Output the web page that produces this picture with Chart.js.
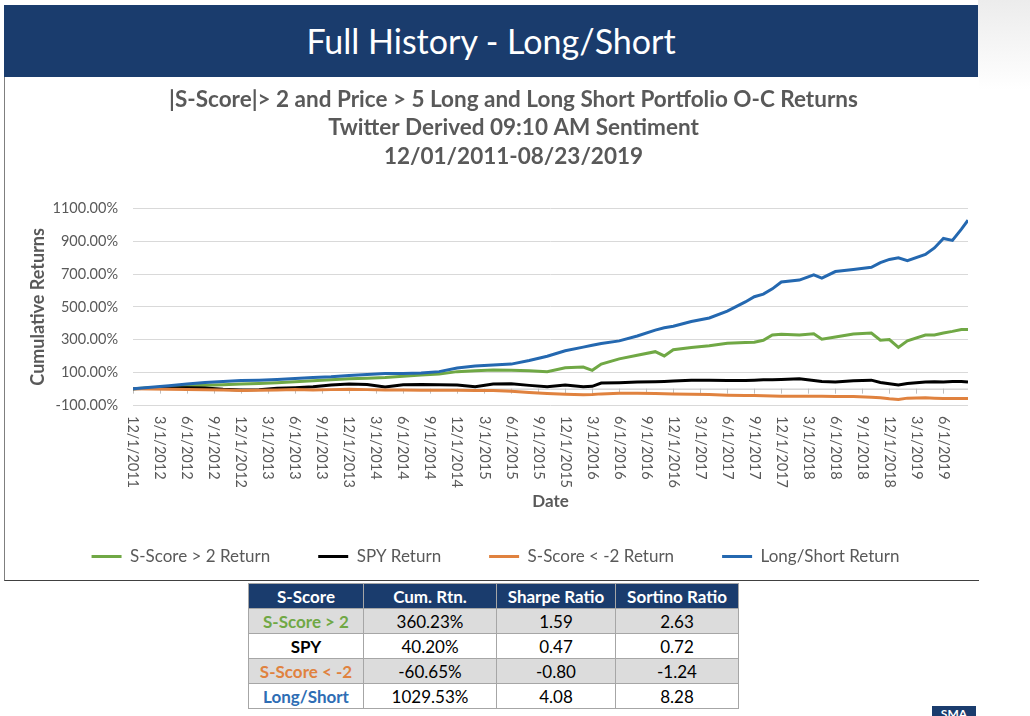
<!DOCTYPE html>
<html>
<head>
<meta charset="utf-8">
<script src="https://cdn.jsdelivr.net/npm/chart.js@4.4.1/dist/chart.umd.min.js"></script>
<style>
  body { margin: 0; width: 1030px; height: 716px; overflow: hidden; background: #fff; font-family: Lato, "Open Sans", sans-serif; position: relative; }
  .shade { position: absolute; left: 978px; top: 0; width: 52px; height: 90px; background: linear-gradient(to bottom, #ececec, #fff); }
  .banner { position: absolute; left: 4px; top: 5px; width: 974px; height: 72px; background: #1a3c6d; color: #fff; font-size: 34px; line-height: 72px; text-align: center; }
  .panel { position: absolute; left: 4px; top: 77px; width: 974px; height: 503px; border-left: 1px solid #7f7f7f; border-bottom: 1px solid #404040; background: #fff; }
  .panel canvas { position: absolute; left: 0; top: 0; }
  table { position: absolute; left: 248px; top: 583px; border-collapse: collapse; table-layout: fixed; font-size: 17px; }
  th, td { border: 1px solid #a6a6a6; height: 24px; padding: 0; text-align: center; }
  th { background: #1a3c6d; color: #fff; font-weight: bold; }
  tr.alt td { background: #dcdcdc; }
  td.name { font-weight: bold; }
  .logo { position: absolute; left: 932px; top: 706px; width: 44px; height: 16px; background: #1a3c6d; color: #fff; font-size: 12px; font-weight: bold; text-align: center; line-height: 16px; }
</style>
</head>
<body>
<div class="shade"></div>
<div class="banner">Full History - Long/Short</div>
<div class="panel"><div style="position:relative;width:974px;height:503px"><canvas id="chart"></canvas></div></div>
<table id="stats"></table>
<div class="logo">SMA</div>
<script>
// months since 12/1/2011
const months = [0, 2, 4, 6, 8, 10, 12, 14, 16, 18, 20, 22, 24, 26, 28, 30, 32, 34, 36, 38, 40, 42, 44, 46, 48, 50, 51, 52, 54, 56, 58, 59, 60, 62, 64, 66, 68, 69, 70, 71, 72, 74, 75.6, 76.5, 78, 80, 82, 83, 84, 85, 86, 88, 89, 90, 91, 92, 92.73];

const longReturn = [0, 6, 12, 16, 20, 24, 28, 32, 36, 42, 48, 54, 60, 64, 68, 76, 84, 90, 104, 110, 114, 112, 110, 104, 128, 132, 112, 150, 182, 204, 226, 200, 238, 252, 262, 278, 282, 284, 296, 328, 332, 328, 336, 302, 316, 334, 340, 296, 300, 252, 292, 328, 328, 340, 350, 362, 362];
const spyReturn = [0, 2, 4, 6, 4, -4, -8, -6, 2, 6, 12, 22, 28, 26, 10, 24, 26, 24, 22, 12, 28, 30, 20, 12, 22, 12, 14, 34, 36, 40, 42, 44, 46, 52, 52, 50, 50, 52, 54, 54, 56, 60, 50, 44, 40, 48, 52, 38, 30, 22, 32, 40, 42, 40, 44, 44, 40];
const shortReturn = [0, -2, -4, -5, -7, -9, -12, -10, -8, -6, -8, -6, -4, -6, -8, -8, -10, -10, -10, -12, -12, -16, -24, -30, -34, -38, -36, -32, -28, -28, -30, -31, -32, -34, -36, -40, -42, -42, -44, -45, -46, -47, -46, -47, -48, -48, -52, -55, -62, -66, -58, -56, -58, -60, -60, -60, -61];
const longShortReturn = [0, 8, 18, 28, 38, 44, 50, 52, 56, 62, 68, 72, 80, 86, 92, 92, 96, 104, 126, 138, 144, 150, 172, 198, 232, 254, 265, 276, 292, 322, 358, 372, 382, 410, 432, 474, 530, 562, 578, 610, 652, 664, 696, 676, 716, 728, 742, 770, 790, 800, 782, 820, 860, 918, 906, 975, 1030];

const seriesNames = ['S-Score > 2 Return', 'SPY Return', 'S-Score < -2 Return', 'Long/Short Return'];
const seriesColors = ['#70a845', '#000000', '#e0823f', '#2468b0'];

const xTickMonths = [0, 3, 6, 9, 12, 15, 18, 21, 24, 27, 30, 33, 36, 39, 42, 45, 48, 51, 54, 57, 60, 63, 66, 69, 72, 75, 78, 81, 84, 87, 90];
const xTickLabels = ['12/1/2011', '3/1/2012', '6/1/2012', '9/1/2012', '12/1/2012', '3/1/2013', '6/1/2013', '9/1/2013', '12/1/2013', '3/1/2014', '6/1/2014', '9/1/2014', '12/1/2014', '3/1/2015', '6/1/2015', '9/1/2015', '12/1/2015', '3/1/2016', '6/1/2016', '9/1/2016', '12/1/2016', '3/1/2017', '6/1/2017', '9/1/2017', '12/1/2017', '3/1/2018', '6/1/2018', '9/1/2018', '12/1/2018', '3/1/2019', '6/1/2019'];

// stats table
const tableHeader = ['S-Score', 'Cum. Rtn.', 'Sharpe Ratio', 'Sortino Ratio'];
const tableNames = ['S-Score > 2', 'SPY', 'S-Score < -2', 'Long/Short'];
const tableNameColors = ['#70a845', '#000000', '#e0823f', '#2e6db4'];
const cumRtn = ['360.23%', '40.20%', '-60.65%', '1029.53%'];
const sharpe = ['1.59', '0.47', '-0.80', '4.08'];
const sortino = ['2.63', '0.72', '-1.24', '8.28'];
const colWidths = [114, 132, 118, 122];

const tbl = document.getElementById('stats');
let html = '<tr>' + tableHeader.map((h, i) => `<th style="width:${colWidths[i]}px">${h}</th>`).join('') + '</tr>';
tableNames.forEach((n, i) => {
  html += `<tr class="${i % 2 === 0 ? 'alt' : ''}"><td class="name" style="color:${tableNameColors[i]}">${n.replace('<', '&lt;').replace('>', '&gt;')}</td><td>${cumRtn[i]}</td><td>${sharpe[i]}</td><td>${sortino[i]}</td></tr>`;
});
tbl.innerHTML = html;

const grey = '#595959';
const allSeries = [longReturn, spyReturn, shortReturn, longShortReturn];

// clockwise date labels + zero axis with tick marks, like the Excel chart
const excelAxis = {
  id: 'excelAxis',
  afterLayout(chart) {
    // Excel put the title and legend a bit right of centre
    chart.titleBlock.left += 54;
    chart.legend.left += 18;
  },
  beforeDatasetsDraw(chart) {
    const { ctx, chartArea } = chart;
    const xs = chart.scales.x, ys = chart.scales.y;
    const y0 = ys.getPixelForValue(0);
    ctx.save();
    ctx.strokeStyle = '#bfbfbf';
    ctx.lineWidth = 1;
    ctx.beginPath();
    ctx.moveTo(chartArea.left, y0 + 0.5);
    ctx.lineTo(chartArea.right, y0 + 0.5);
    xTickMonths.forEach(m => {
      const x = Math.round(xs.getPixelForValue(m)) + 0.5;
      ctx.moveTo(x, y0);
      ctx.lineTo(x, y0 + 5);
    });
    ctx.stroke();
    ctx.restore();
  },
  afterDraw(chart) {
    const { ctx, chartArea } = chart;
    const xs = chart.scales.x;
    ctx.save();
    ctx.fillStyle = grey;
    ctx.font = '14.5px Lato';
    ctx.textAlign = 'left';
    ctx.textBaseline = 'middle';
    xTickMonths.forEach((m, i) => {
      ctx.save();
      ctx.translate(xs.getPixelForValue(m), chartArea.bottom + 11);
      ctx.rotate(Math.PI / 2);
      ctx.fillText(xTickLabels[i], 0, 0);
      ctx.restore();
    });
    ctx.restore();
  }
};

new Chart(document.getElementById('chart'), {
  type: 'line',
  data: {
    datasets: allSeries.map((vals, i) => ({
      label: seriesNames[i],
      data: months.map((m, j) => ({ x: m, y: vals[j] })),
      borderColor: seriesColors[i],
      backgroundColor: seriesColors[i],
      borderWidth: 3,
      pointRadius: 0,
      pointStyle: 'line',
      tension: 0,
      order: 4 - i
    }))
  },
  options: {
    responsive: true,
    maintainAspectRatio: false,
    animation: false,
    layout: { padding: { top: 8, right: 11, left: 0, bottom: 5 } },
    plugins: {
      title: {
        display: true,
        text: ['|S-Score|> 2 and Price > 5 Long and Long Short Portfolio O-C Returns', 'Twitter Derived 09:10 AM Sentiment', '12/01/2011-08/23/2019'],
        color: grey,
        font: { family: 'Lato', size: 22.5, weight: 'bold', lineHeight: 1.27 },
        padding: { top: 0, bottom: 38 }
      },
      legend: {
        position: 'bottom',
        labels: {
          sort: (a, b) => a.datasetIndex - b.datasetIndex,
          color: grey,
          font: { family: 'Lato', size: 17 },
          usePointStyle: true,
          pointStyle: 'line',
          pointStyleWidth: 30,
          boxHeight: 3,
          padding: 48
        }
      },
      tooltip: { enabled: false }
    },
    scales: {
      x: {
        type: 'linear',
        min: 0,
        max: 92.73,
        afterBuildTicks: s => { s.ticks = xTickMonths.map(v => ({ value: v })); },
        afterFit: s => { s.height = 95; },
        grid: { display: false },
        border: { display: false },
        ticks: {
          autoSkip: false,
          minRotation: 90,
          maxRotation: 90,
          color: 'rgba(0,0,0,0)',
          font: { family: 'Lato', size: 14.5 },
          callback: (v, i) => xTickLabels[i]
        },
        title: { display: true, text: 'Date', color: grey, font: { family: 'Lato', size: 17, weight: 'bold' }, padding: { top: 0, bottom: -12 } }
      },
      y: {
        min: -100,
        max: 1100,
        afterFit: s => { s.width = 128; },
        ticks: {
          stepSize: 200,
          color: grey,
          padding: 15,
          font: { family: 'Lato', size: 14.5 },
          callback: v => v.toFixed(2) + '%'
        },
        grid: { color: '#d9d9d9', drawTicks: false },
        border: { display: false },
        title: { display: true, text: 'Cumulative Returns', color: grey, font: { family: 'Lato', size: 18, weight: 'bold' }, padding: { top: 22, bottom: 0 } }
      }
    }
  },
  plugins: [excelAxis]
});
</script>
</body>
</html>
